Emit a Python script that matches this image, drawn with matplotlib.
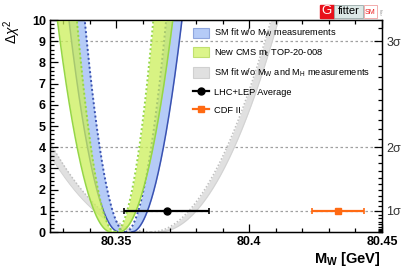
import numpy as np
import matplotlib
matplotlib.use("Agg")
import matplotlib.pyplot as plt
from matplotlib.patches import Patch, Rectangle
from matplotlib.lines import Line2D

plt.rcParams["font.family"] = ["Liberation Sans", "DejaVu Sans"]
plt.rcParams["mathtext.fontset"] = "custom"
plt.rcParams["mathtext.rm"] = "Liberation Sans"
plt.rcParams["mathtext.it"] = "Liberation Sans:italic"
plt.rcParams["mathtext.bf"] = "Liberation Sans:bold"

# chi2 scans: centre, flat (theory) half-width, width of outer and inner curve
# order: SM fit w/o MW, new CMS mt
blue_scan = [80.3534, 0.0023, 0.0060, 0.00485]
green_scan = [80.3495, 0.0015, 0.0064, 0.00455]
# SM fit w/o MW and MH: centre, flat half-width, left sigma, right sigma
gray_scan = [80.363, 0.0028, 0.0185, 0.0143]

# measurements (value, error) at delta chi2 = 1
lhc_lep = [80.369, 0.016]
cdf = [80.4335, 0.0097]

x_ticks = [80.35, 80.40, 80.45]
x_ticklabels = ["80.35", "80.4", "80.45"]
sigma_levels = [1, 2, 3]

dchi2 = np.linspace(0, 10.5, 300)
root = np.sqrt(dchi2)

fig = plt.figure(figsize=(4.07, 2.76), dpi=100)
ax = fig.add_axes([0.1229, 0.1594, 0.8157, 0.7681])


def draw_band(c, flat, s_out, s_in, fill, line, alpha=1.0, z=2):
    out_l = c - flat - s_out * root
    out_r = c + flat + s_out * root
    in_l = c - s_in * root
    in_r = c + s_in * root
    ax.fill_betweenx(dchi2, out_l, in_l, color=fill, alpha=alpha, lw=0, zorder=z)
    ax.fill_betweenx(dchi2, in_r, out_r, color=fill, alpha=alpha, lw=0, zorder=z)
    ax.plot(out_l, dchi2, color=line, lw=1.1, zorder=z + 0.5)
    ax.plot(out_r, dchi2, color=line, lw=1.1, zorder=z + 0.5)
    ax.plot(in_l, dchi2, color=line, lw=1.4, ls=(0, (1, 1.3)), zorder=z + 0.5)
    ax.plot(in_r, dchi2, color=line, lw=1.4, ls=(0, (1, 1.3)), zorder=z + 0.5)


# gray band (asymmetric)
gc, gflat, gsl, gsr = gray_scan
g_out_l = gc - gflat - gsl * root
g_in_l = gc - gsl * root
g_in_r = gc + gsr * root
g_out_r = gc + gflat + gsr * root
ax.fill_betweenx(dchi2, g_out_l, g_in_l, color="#e0e0e0", lw=0, zorder=1)
ax.fill_betweenx(dchi2, g_in_r, g_out_r, color="#e0e0e0", lw=0, zorder=1)
for xs in (g_out_l, g_out_r):
    ax.plot(xs, dchi2, color="#d2d2d2", lw=0.7, zorder=1.2)
for xs in (g_in_l, g_in_r):
    ax.plot(xs, dchi2, color="#c0c0c0", lw=1.1, ls=(0, (1, 1.3)), zorder=1.2)

draw_band(*blue_scan, fill="#b5cbf7", line="#3a52b2", z=2)
draw_band(*green_scan, fill="#ccf05a", line="#95d646", alpha=0.75, z=3)

# sigma lines
for s in sigma_levels:
    ax.axhline(s ** 2, color="#a0a0a0", lw=0.9, ls=(0, (2, 2)), zorder=0.5)

# measurements
ax.errorbar(lhc_lep[0], 1, xerr=lhc_lep[1], fmt="o", color="black", ms=5,
            elinewidth=1.6, capsize=2.5, capthick=1.2, zorder=6)
ax.errorbar(cdf[0], 1, xerr=cdf[1], fmt="s", color="#ff6a13", ms=5,
            elinewidth=1.6, capsize=2.5, capthick=1.2, zorder=6)

ax.set_xlim(80.325, 80.45)
ax.set_ylim(0, 10)
ax.set_xticks(x_ticks)
ax.set_xticklabels(x_ticklabels)
ax.set_xticks(np.arange(80.33, 80.451, 0.01), minor=True)
ax.set_yticks(range(0, 11))
ax.set_yticks(np.arange(0, 10.01, 0.2), minor=True)
ax.tick_params(which="both", direction="in", top=True, right=False, width=0.9)
ax.tick_params(which="major", length=5.5, labelsize=9, pad=3)
ax.tick_params(which="minor", length=3)
for lab in ax.get_xticklabels() + ax.get_yticklabels():
    lab.set_fontweight("bold")
for sp in ax.spines.values():
    sp.set_linewidth(1.0)

# right axis in sigma
ax2 = ax.twinx()
ax2.set_ylim(0, 10)
ax2.set_yticks([s ** 2 for s in sigma_levels])
ax2.set_yticklabels([f"{s}σ" for s in sigma_levels], fontsize=9, color="#333333")
ax2.set_yticks([(k / 10) ** 2 for k in range(0, 32)], minor=True)
ax2.tick_params(which="both", direction="in", width=0.9)
ax2.tick_params(which="major", length=5.5, pad=3)
ax2.tick_params(which="minor", length=3)

# legend
handles = [
    Patch(facecolor="#b5cbf7", edgecolor="#8fa6de", lw=0.8),
    Patch(facecolor="#dcf58a", edgecolor="#c0e070", lw=0.8),
    Patch(facecolor="#e0e0e0", edgecolor="#d0d0d0", lw=0.8),
    Line2D([], [], color="black", marker="o", ms=5, lw=1.6),
    Line2D([], [], color="#ff6a13", marker="s", ms=5, lw=1.6),
]
labels = [
    r"SM fit w/o M$_{\rm W}$ measurements",
    r"New CMS m$_{\rm t}$ TOP-20-008",
    r"SM fit w/o M$_{\rm W}$ and M$_{\rm H}$ measurements",
    "LHC+LEP Average",
    "CDF II",
]
leg = ax.legend(handles, labels, loc="upper left", bbox_to_anchor=(0.42, 0.985),
                frameon=False, fontsize=6.7, handlelength=1.75, handleheight=1.35,
                handletextpad=0.5, labelspacing=0.82, borderaxespad=0)
leg.set_zorder(10)

# axis labels
fig.text(0.03, 0.93, r"$\Delta\chi^2$", rotation=90, fontsize=10,
         ha="center", va="top")
fig.text(0.935, 0.03, r"$\mathbf{M_W}$ [GeV]", fontsize=10.5, fontweight="bold",
         ha="right", va="bottom")

# Gfitter logo
fig.patches.append(Rectangle((320 / 407, 1 - 18 / 276), 14 / 407, 13 / 276,
                             transform=fig.transFigure, color="#e8101a"))
fig.text(327 / 407, 1 - 11.5 / 276, "G", color="white", fontsize=9.5,
         ha="center", va="center")
fig.patches.append(Rectangle((334 / 407, 1 - 18 / 276), 29 / 407, 13 / 276,
                             transform=fig.transFigure, facecolor="#dce8e6",
                             edgecolor="#9aaaa8", lw=0.6))
fig.text(348.5 / 407, 1 - 11.5 / 276, "fitter", color="black", fontsize=8,
         ha="center", va="center")
fig.patches.append(Rectangle((364 / 407, 1 - 18 / 276), 13 / 407, 13 / 276,
                             transform=fig.transFigure, facecolor="white",
                             edgecolor="#f0a0a0", lw=0.6))
fig.text(370.5 / 407, 1 - 13 / 276, "SM", color="#ee2020", fontsize=5,
         ha="center", va="center")
fig.text(380 / 407, 1 - 11.5 / 276, "fitter", color="#888888", fontsize=2.5,
         rotation=-90, ha="center", va="center")

fig.savefig("out.png", dpi=100)
